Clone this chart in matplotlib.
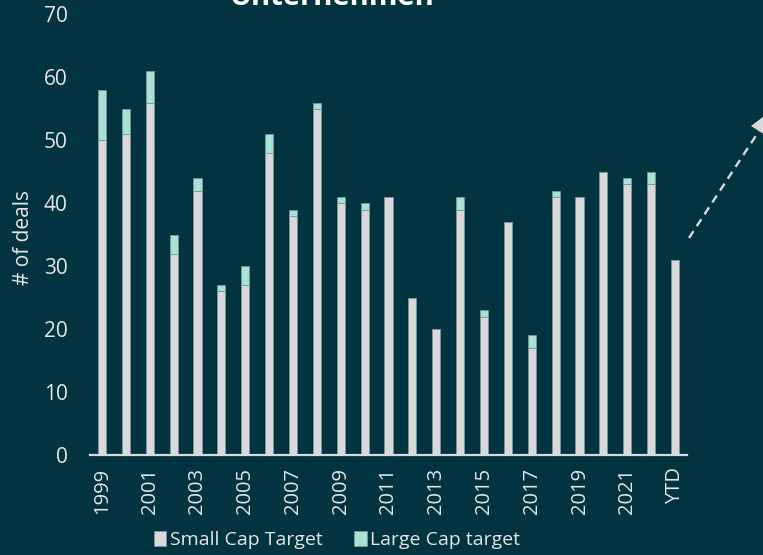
import matplotlib
matplotlib.use("Agg")
import matplotlib.pyplot as plt
from matplotlib.lines import Line2D
from matplotlib.patches import Polygon

plt.rcParams['font.family'] = ['Open Sans', 'DejaVu Sans']

# data
years = [str(y) for y in range(1999, 2023)] + ['YTD']
small_cap = [50, 51, 56, 32, 42, 26, 27, 48, 38, 55, 40, 39, 41,
             25, 20, 39, 22, 37, 17, 41, 41, 45, 43, 43, 31]
total = [58, 55, 61, 35, 44, 27, 30, 51, 39, 56, 41, 40, 41,
         25, 20, 41, 23, 37, 19, 42, 41, 45, 44, 45, 31]
large_cap = [t - s for t, s in zip(total, small_cap)]
tick_labels = [y if i % 2 == 0 else '' for i, y in enumerate(years)]

bg = '#013440'
txt = '#e6e6e6'
c_small = '#d9d9d9'
c_large = '#a6e3d4'

W, H = 763, 555
fig = plt.figure(figsize=(W / 100, H / 100), dpi=100, facecolor=bg)
ax = fig.add_axes([90 / W, 1 - 455 / H, 597 / W, 440.5 / H])
ax.set_facecolor(bg)

x = range(len(years))
ax.bar(x, small_cap, width=0.34, color=c_small, edgecolor='#7f9496',
       linewidth=0.6, label='Small Cap Target', zorder=2)
ax.bar(x, large_cap, bottom=small_cap, width=0.34, color=c_large,
       edgecolor='#7f9496', linewidth=0.6, label='Large Cap target', zorder=2)

ax.set_xlim(-0.5, 24.5)
ax.set_ylim(0, 70)
ax.set_yticks(range(0, 71, 10))
ax.set_xticks(list(x))
ax.set_xticklabels(tick_labels, rotation=90, fontsize=14.5, color=txt)
ax.tick_params(axis='x', length=0, pad=9)
ax.tick_params(axis='y', length=0, pad=16, labelsize=15, labelcolor=txt)

for s in ['top', 'right', 'left']:
    ax.spines[s].set_visible(False)
ax.spines['bottom'].set_color(c_small)
ax.spines['bottom'].set_linewidth(1.6)
ax.spines['bottom'].set_zorder(3)

# y label
fig.text(24 / W, 1 - 237 / H, '# of deals', rotation=90, fontsize=15,
         color=txt, ha='center', va='center')

# title, cut off by the top edge like in the source
fig.text(332 / W, 1 - 5 / H, 'Unternehmen', fontsize=21, fontweight='bold',
         color='white', ha='center', va='baseline')

# legend
fig.legend(loc='center', bbox_to_anchor=(337 / W, 1 - 540 / H), ncol=2,
           frameon=False, fontsize=14, labelcolor=txt, handlelength=0.65,
           handleheight=0.8, handletextpad=0.2, columnspacing=1.6,
           borderpad=0)

# dashed arrow to the right
x0, y0 = 689, 238
bx, by = 759, 131
fig.add_artist(Line2D([x0 / W, bx / W], [1 - y0 / H, 1 - by / H],
                      transform=fig.transFigure, color=c_small, lw=1.7,
                      linestyle=(0, (3.5, 2.5))))
head = [(772, 110), (751, 126), (767, 136)]
fig.add_artist(Polygon([(px / W, 1 - py / H) for px, py in head],
                       closed=True, transform=fig.transFigure,
                       facecolor=c_small, edgecolor='none'))

fig.savefig('out.png', dpi=100, facecolor=bg)
